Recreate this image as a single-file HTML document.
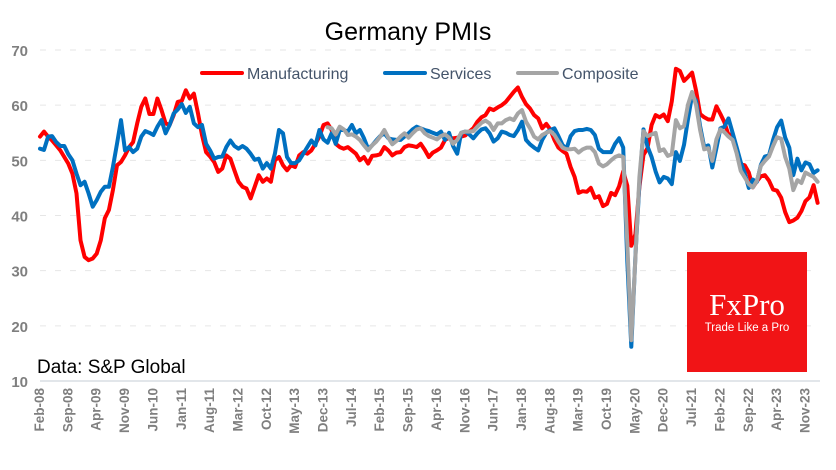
<!DOCTYPE html>
<html><head><meta charset="utf-8"><style>
html,body{margin:0;padding:0;background:#fff}
svg{display:block}
</style></head><body>
<svg id="chart" width="836" height="470" viewBox="0 0 836 470" xmlns="http://www.w3.org/2000/svg">
<text x="408" y="40" text-anchor="middle" font-family="Liberation Sans, sans-serif" font-size="25" fill="#000">Germany PMIs</text>
<g id="grid"></g>
<g id="yaxis"></g>
<g id="xaxis"></g>
<g id="series"></g>
<g font-family="Liberation Sans, sans-serif" font-size="16" fill="#44546a">
 <g><line x1="202" y1="73" x2="242" y2="73" stroke="#ff0000" stroke-width="4" stroke-linecap="round"/><text x="247" y="79">Manufacturing</text></g>
 <g><line x1="385" y1="73" x2="425" y2="73" stroke="#0070c0" stroke-width="4" stroke-linecap="round"/><text x="430" y="79">Services</text></g>
 <g><line x1="518" y1="73" x2="557" y2="73" stroke="#a5a5a5" stroke-width="4" stroke-linecap="round"/><text x="562" y="79">Composite</text></g>
</g>
<text x="37" y="373" font-family="Liberation Sans, sans-serif" font-size="19" fill="#000">Data: S&amp;P Global</text>
<g>
 <rect x="687" y="252" width="120" height="120" fill="#f11416"/>
 <text x="747" y="315" text-anchor="middle" font-family="Liberation Serif, serif" font-size="31" fill="#fff">FxPro</text>
 <text x="747" y="331" text-anchor="middle" font-family="Liberation Sans, sans-serif" font-size="11.5" fill="#fff">Trade Like a Pro</text>
</g>
</svg>
<script>
const yTicks = [10,20,30,40,50,60,70];
const xTickLabels = ["Feb-08","Sep-08","Apr-09","Nov-09","Jun-10","Jan-11","Aug-11","Mar-12","Oct-12","May-13","Dec-13","Jul-14","Feb-15","Sep-15","Apr-16","Nov-16","Jun-17","Jan-18","Aug-18","Mar-19","Oct-19","May-20","Dec-20","Jul-21","Feb-22","Sep-22","Apr-23","Nov-23"];
const manufacturing = [54.3,55.2,54.3,53.6,52.7,51.8,50.6,49.4,47.6,44.0,35.5,32.5,
31.9,32.2,33.1,35.5,39.5,41.0,44.6,49.1,49.7,50.9,52.4,53.3,
56.7,59.7,61.2,58.4,58.4,61.2,59.1,56.7,56.4,58.2,60.6,60.8,
62.7,61.2,62.1,58.5,54.6,51.5,50.7,49.7,47.9,48.5,50.9,50.3,
48.2,46.1,45.2,44.9,43.1,45.2,47.3,46.1,46.7,46.1,50.0,50.6,
49.1,48.2,49.1,48.8,50.9,51.5,51.2,51.8,53.0,54.3,56.4,56.7,
55.5,53.0,52.4,52.1,52.4,51.8,51.2,50.0,50.6,49.4,50.8,50.9,
51.1,52.4,51.8,50.9,51.4,51.5,52.4,52.7,52.6,52.4,53.0,51.9,
50.6,51.4,51.8,52.3,53.7,54.1,54.0,54.1,54.3,54.5,55.2,55.8,
57.0,57.8,58.2,59.4,59.1,59.6,60.0,60.6,61.5,62.4,63.2,61.5,
60.2,59.4,58.2,57.6,55.8,56.6,55.6,53.7,52.3,51.7,51.2,48.8,
47.0,44.1,44.4,44.3,45.0,43.2,43.5,41.7,42.1,44.1,43.7,45.3,
48.0,45.4,34.5,36.6,45.2,51.0,52.2,56.4,58.2,57.8,58.3,57.1,
60.7,66.6,66.2,64.4,65.1,65.9,62.6,58.4,57.8,57.4,57.4,59.8,
58.4,56.9,54.6,54.8,52.0,49.3,49.1,47.8,45.1,46.2,47.1,47.3,
46.3,44.7,44.5,43.2,40.6,38.8,39.1,39.6,40.8,42.6,43.3,45.5,42.3];
const services = [52.1,51.9,54.3,54.4,53.3,52.6,52.6,51.1,50.0,47.6,45.5,46.1,
44.0,41.6,42.8,44.3,45.2,45.2,48.8,53.0,57.3,51.8,52.4,51.5,
52.1,54.3,55.3,55.0,54.6,56.1,57.3,54.9,56.4,58.5,59.2,60.2,
58.6,59.7,56.7,56.0,56.4,53.0,51.8,50.3,50.6,50.7,52.4,53.6,
52.6,52.1,52.6,52.1,51.2,50.1,50.3,48.5,49.5,48.5,51.2,55.5,
54.9,50.6,49.5,49.5,50.0,51.2,52.4,53.6,52.7,55.5,53.8,53.2,
54.9,53.0,55.5,55.5,55.2,56.4,54.9,55.5,54.0,52.1,52.7,53.6,
54.4,54.9,54.0,53.8,53.7,53.7,54.3,54.9,55.6,56.1,55.8,55.5,
55.3,55.0,54.7,55.2,53.7,55.0,52.6,51.2,55.0,55.2,54.7,54.0,
54.9,55.6,55.8,54.9,53.4,54.0,55.2,55.0,54.6,54.4,55.5,57.0,
53.7,52.9,52.3,51.8,53.7,55.0,55.5,55.8,54.4,52.8,52.1,54.4,
55.3,55.5,55.5,55.7,55.5,54.6,52.1,51.5,51.5,51.5,53.0,54.0,
52.3,31.7,16.2,32.6,45.8,55.6,52.5,50.6,48.0,46.0,47.0,46.7,
45.7,51.5,49.9,52.8,57.5,61.8,60.8,56.2,52.4,52.7,48.7,52.2,
55.8,56.1,57.6,55.0,52.4,49.7,47.7,45.0,46.5,46.1,49.2,50.7,
50.9,53.7,56.0,57.2,54.1,52.3,47.3,50.3,48.2,49.6,49.3,47.7,48.2];
const compositeStart = 71;
const composite = [56.0,
55.8,54.7,56.1,55.6,54.6,54.7,54.3,53.7,52.7,51.8,52.7,53.4,
54.3,55.5,54.1,52.9,53.5,54.3,54.9,54.1,54.9,55.6,55.8,54.9,
54.4,54.1,53.8,54.4,54.7,54.1,53.0,53.7,55.0,55.2,55.2,55.3,
56.1,56.8,57.2,56.7,55.5,56.7,56.7,57.3,57.6,57.3,58.5,59.1,
57.0,55.8,54.3,53.8,54.6,55.0,55.3,54.6,53.4,52.3,52.0,52.0,
52.1,51.4,52.0,52.3,52.3,51.5,49.4,48.9,49.3,50.0,50.6,50.9,
50.6,35.0,17.4,32.3,47.0,55.3,54.4,54.7,55.0,51.7,52.0,50.8,
51.1,57.3,55.8,56.2,60.1,62.4,60.0,55.5,52.0,52.2,49.9,53.8,
55.6,55.1,54.3,53.7,51.3,48.1,46.9,45.7,45.1,46.3,49.0,49.9,
50.7,52.6,54.2,53.9,50.6,48.5,44.6,46.4,45.9,47.8,47.4,47.0,46.1];

const NS = "http://www.w3.org/2000/svg";
const nMonths = manufacturing.length;
const plotL = 40, plotR = 817.6, plotT = 50, plotB = 381;
function xScale(i){ return plotL + i * (plotR - plotL) / (nMonths - 1); }
function yScale(v){ return plotB - (v - 10) * (plotB - plotT) / 60; }
function mk(tag, attrs){ const e = document.createElementNS(NS, tag); for (const k in attrs) e.setAttribute(k, attrs[k]); return e; }

const grid = document.getElementById('grid');
const yaxis = document.getElementById('yaxis');
yTicks.forEach(t => {
  const y = yScale(t);
  const ln = mk('line', {x1: 40, x2: 820, y1: y, y2: y, stroke: t === 10 ? '#d9dde3' : '#e6e6e6', 'stroke-width': t === 10 ? 1.5 : 1, 'stroke-dasharray': t === 10 ? '' : '6,9'});
  
  
  grid.appendChild(ln);
  const tx = mk('text', {x: 28, y: y + 6, 'text-anchor': 'end', 'font-family': 'Liberation Sans, sans-serif', 'font-size': 15, 'font-weight': 'bold', fill: '#7f7f7f'});
  tx.textContent = t;
  
  
  yaxis.appendChild(tx);
});

const xaxis = document.getElementById('xaxis');
xTickLabels.forEach((lab, k) => {
  const x = xScale(k * 7) + 4;
  const tx = mk('text', {x: 0, y: 0, transform: 'translate(' + x + ',388) rotate(-90)', 'text-anchor': 'end', 'font-family': 'Liberation Sans, sans-serif', 'font-size': 13.5, 'font-weight': 'bold', fill: '#7f7f7f'});
  tx.textContent = lab;
  
  
  xaxis.appendChild(tx);
});

const seriesG = document.getElementById('series');
function drawLine(vals, start, color, name){
  const pts = vals.map((v, j) => xScale(start + j).toFixed(1) + ',' + yScale(v).toFixed(1)).join(' ');
  const pl = mk('polyline', {points: pts, fill: 'none', stroke: color, 'stroke-width': 4, 'stroke-linejoin': 'round', 'stroke-linecap': 'round'});
  
  
  seriesG.appendChild(pl);
}
drawLine(manufacturing, 0, '#ff0000', 'manufacturing-line');
drawLine(services, 0, '#0070c0', 'services-line');
drawLine(composite, compositeStart, '#a5a5a5', 'composite-line');
</script>
</body></html>
